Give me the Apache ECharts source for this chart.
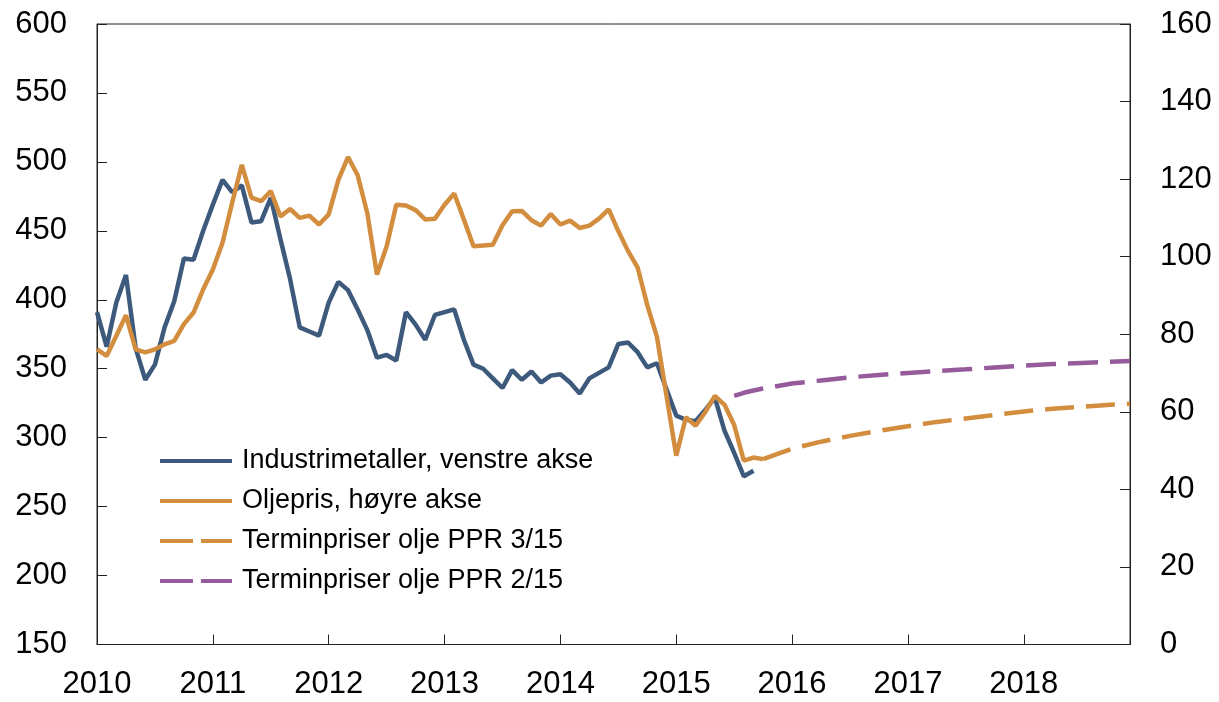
<!DOCTYPE html>
<html>
<head>
<meta charset="utf-8">
<script src="https://cdn.jsdelivr.net/npm/echarts@6/dist/echarts.min.js"></script>
<style>
  html, body { margin: 0; padding: 0; background: #fff; }
  #chart { width: 1219px; height: 702px; }
</style>
</head>
<body>
<div id="chart"></div>
<script>
const years = ['2010', '2011', '2012', '2013', '2014', '2015', '2016', '2017', '2018'];
const monthNums = ['01', '02', '03', '04', '05', '06', '07', '08', '09', '10', '11', '12'];
const months = years.flatMap(y => monthNums.map(m => `${y}-${m}`));

// Industrimetaller (venstre akse), månedlig fra jan 2010
const industrimetaller = [
  391, 366, 398, 418, 365, 342, 353, 380, 399, 430, 429, 450,
  469, 487, 478, 483, 456, 457, 474, 444, 415, 380, 377, 374,
  398, 413, 407, 393, 378, 358, 360, 356, 391, 382, 371, 389,
  391, 393, 371, 353, 350, 343, 336, 349, 342, 348, 340, 345,
  346, 340, 332, 343, 347, 351, 368, 369, 362, 351, 354, 335,
  316, 313, 312, 320, 329, 305, 289, 272, 276,
];

// Oljepris (høyre akse), månedlig fra jan 2010
const oljepris = [
  76.1, 74.4, 79.6, 84.9, 76.1, 75.3, 76.1, 77.4, 78.3, 82.6, 85.6, 91.6,
  96.7, 103.6, 113.9, 123.7, 115.2, 114.3, 116.9, 110.4, 112.3, 110.0, 110.6, 108.3,
  110.9, 119.8, 125.7, 121.0, 111.2, 95.4, 102.6, 113.4, 113.2, 112.0, 109.6, 109.8,
  113.4, 116.3, 109.6, 102.7, 102.9, 103.1, 108.1, 111.7, 111.8, 109.4, 108.0, 111.0,
  108.3, 109.3, 107.4, 108.0, 109.8, 112.2, 106.6, 101.5, 97.2, 87.5, 79.3, 64.0,
  48.7, 58.6, 56.4, 59.9, 64.1, 61.8, 56.6, 47.4, 48.2, 47.8,
];

// Terminpriser olje PPR 3/15
const termin3Months = ['2015-10', '2015-11', '2015-12', '2016-01', '2016-04', '2016-07', '2016-10',
  '2017-01', '2017-04', '2017-07', '2017-10', '2018-01', '2018-04', '2018-07', '2018-10', '2018-12'];
const termin3 = [47.8, 48.7, 49.6, 50.5, 52.3, 53.8, 55.1, 56.3, 57.4, 58.3, 59.2, 60.1, 60.8, 61.3, 61.8, 62.1];

// Terminpriser olje PPR 2/15
const termin2Months = ['2015-07', '2015-08', '2015-09', '2015-10', '2016-01', '2016-04', '2016-07', '2016-10',
  '2017-01', '2017-04', '2017-07', '2017-10', '2018-01', '2018-04', '2018-07', '2018-10', '2018-12'];
const termin2 = [64.1, 64.9, 65.5, 66.0, 67.3, 68.1, 68.9, 69.5, 70.0, 70.5, 70.95, 71.45, 71.9, 72.3, 72.6, 72.9, 73.1];

const leftTicks = { min: 150, max: 600, interval: 50 };
const rightTicks = { min: 0, max: 160, interval: 20 };

const blue = '#3d5a7c';
const orange = '#d38d3f';
const purple = '#965b9b';
const axisColor = '#222';
const font = '"Liberation Sans", Arial, Helvetica, sans-serif';

// legend icons: a solid bar and a two-dash bar
const solidIcon = 'path://M0,0H72V4H0Z';
const dashIcon = 'path://M0,0H33V4H0Z M41,0H72V4H41Z';

const chart = echarts.init(document.getElementById('chart'));

const yAxisCommon = {
  type: 'value',
  splitLine: { show: false },
  axisLine: { show: true, lineStyle: { color: axisColor, width: 1 } },
  axisTick: { show: true, inside: true, length: 10, lineStyle: { color: axisColor } },
  axisLabel: { color: '#000', fontSize: 31, fontFamily: font, margin: 30 },
};

chart.setOption({
  animation: false,
  backgroundColor: '#fff',
  grid: {
    left: 97, right: 89, top: 24, bottom: 57.5,
    show: true, borderColor: axisColor, borderWidth: 1,
  },
  legend: {
    orient: 'vertical',
    left: 160,
    top: 446,
    padding: 0,
    itemWidth: 72,
    itemHeight: 4,
    itemGap: 10,
    textStyle: { color: '#000', fontSize: 27, fontFamily: font, lineHeight: 30, padding: [0, 0, 0, 5] },
    data: [
      { name: 'Industrimetaller, venstre akse', icon: solidIcon },
      { name: 'Oljepris, høyre akse', icon: solidIcon },
      { name: 'Terminpriser olje PPR 3/15', icon: dashIcon },
      { name: 'Terminpriser olje PPR 2/15', icon: dashIcon },
    ],
  },
  xAxis: {
    type: 'category',
    data: months,
    boundaryGap: false,
    axisLine: { show: true, lineStyle: { color: axisColor, width: 1 } },
    axisTick: {
      show: true, inside: true, length: 10,
      interval: (i) => i % 12 === 0,
      lineStyle: { color: axisColor },
    },
    axisLabel: {
      color: '#000', fontSize: 31, fontFamily: font, margin: 24,
      interval: (i) => i % 12 === 0,
      formatter: (v) => v.slice(0, 4),
    },
    splitLine: { show: false },
  },
  yAxis: [
    Object.assign({}, yAxisCommon, { position: 'left' }, leftTicks),
    Object.assign({}, yAxisCommon, { position: 'right' }, rightTicks),
  ],
  series: [
    {
      name: 'Industrimetaller, venstre akse',
      type: 'line',
      yAxisIndex: 0,
      data: industrimetaller,
      symbol: 'none',
      lineStyle: { color: blue, width: 4.5 },
      itemStyle: { color: blue },
    },
    {
      name: 'Oljepris, høyre akse',
      type: 'line',
      yAxisIndex: 1,
      data: oljepris,
      symbol: 'none',
      lineStyle: { color: orange, width: 4.5 },
      itemStyle: { color: orange },
    },
    {
      name: 'Terminpriser olje PPR 3/15',
      type: 'line',
      yAxisIndex: 1,
      data: termin3Months.map((m, i) => [m, termin3[i]]),
      symbol: 'none',
      lineStyle: { color: orange, width: 4.5, type: [29, 12] },
      itemStyle: { color: orange },
    },
    {
      name: 'Terminpriser olje PPR 2/15',
      type: 'line',
      yAxisIndex: 1,
      data: termin2Months.map((m, i) => [m, termin2[i]]),
      symbol: 'none',
      lineStyle: { color: purple, width: 4.5, type: [30, 12] },
      itemStyle: { color: purple },
    },
  ],
});
</script>
</body>
</html>
